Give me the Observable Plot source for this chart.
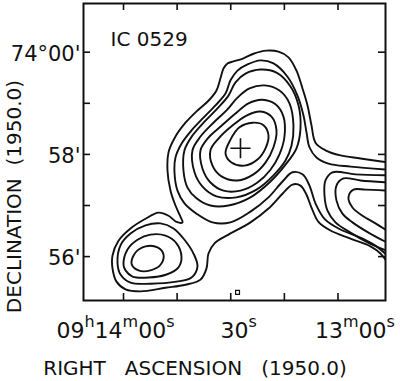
<!DOCTYPE html>
<html><head><meta charset="utf-8">
<script src="https://cdn.jsdelivr.net/npm/d3@7"></script>
<script src="https://cdn.jsdelivr.net/npm/@observablehq/plot@0.6"></script>
<style>
html,body{margin:0;padding:0;background:#fff;}
svg{display:block;}
svg text{white-space:pre;}
</style>
</head><body><div id="chart"></div>
<script>
// RA in seconds of time after 09h13m00s ; Dec in arcmin after 73°00'
const xTicks = [60, 45, 30, 15, 0];
const yTicks = [60, 59, 58, 57, 56];
const xLabelVals = [60, 30, 0];
const xLabels = ["09h14m00s", "30s", "13m00s"];
const yLabelVals = [60, 58, 56];
const yLabels = ["74°00'", "58'", "56'"];
const peak = [[27.28, 58.12]];
const beam = [[28.1, 55.30]];

// contour level 1 (open, leaves the map at the east edge)
const level1 = [[-14.12,57.84],[-6.29,57.92],[-0.69,57.98],[3.50,58.08],[6.30,58.23],[7.42,58.57],[8.54,58.96],[9.93,59.29],[11.61,59.64],[13.85,59.90],[16.65,60.01],[20.00,60.03],[23.64,59.97],[26.44,59.88],[29.23,59.82],[30.91,59.78],[32.03,59.68],[32.87,59.49],[33.99,59.25],[36.23,59.05],[39.30,58.86],[42.66,58.62],[45.46,58.35],[47.41,58.04],[47.69,57.68],[46.85,57.29],[45.46,57.00],[44.06,56.78],[43.50,56.67],[45.18,56.68],[47.41,56.80],[50.21,56.86],[53.85,56.74],[58.04,56.55],[61.40,56.31],[63.08,56.02],[63.08,55.77],[61.96,55.51],[59.44,55.36],[55.24,55.32],[48.25,55.39],[42.66,55.45],[38.46,55.55],[36.78,55.77],[36.23,56.06],[34.55,56.26],[30.63,56.43],[24.48,56.67],[19.44,56.94],[15.53,57.23],[12.73,57.41],[10.49,57.39],[8.81,57.21],[7.42,56.96],[5.46,56.68],[2.10,56.51],[-3.49,56.35],[-9.08,56.20],[-11.88,56.06],[-14.12,55.86]];
// contour level 2 (open)
const level2 = [[-14.12,57.70],[-3.49,57.76],[2.66,57.82],[6.02,57.94],[7.98,58.14],[8.81,58.43],[9.65,58.76],[11.33,59.15],[14.13,59.52],[18.04,59.78],[21.68,59.84],[25.32,59.76],[28.11,59.64],[30.07,59.45],[31.47,59.19],[34.27,58.96],[37.62,58.72],[40.98,58.47],[43.78,58.21],[45.46,57.94],[45.74,57.65],[44.90,57.29],[42.94,57.04],[39.58,56.84],[35.11,56.67],[30.07,56.67],[24.48,56.88],[19.44,57.16],[15.53,57.47],[12.73,57.65],[9.93,57.61],[7.98,57.39],[6.30,57.04],[3.78,56.74],[-0.69,56.53],[-6.29,56.37],[-10.76,56.20],[-14.12,56.00]];
// main source, closed contours
const main3 = [[42.94,58.08],[43.22,57.68],[42.10,57.35],[39.58,57.14],[35.67,57.00],[30.63,57.00],[24.48,57.16],[18.88,57.47],[14.69,57.80],[11.61,58.12],[10.49,58.51],[11.05,58.96],[13.29,59.33],[17.20,59.60],[21.68,59.66],[25.88,59.58],[28.67,59.41],[30.63,59.15],[33.71,58.90],[37.34,58.64],[40.70,58.37]];
const main4 = [[40.70,58.08],[40.14,57.65],[37.90,57.37],[33.99,57.18],[28.39,57.16],[22.80,57.31],[18.04,57.59],[14.69,57.88],[13.01,58.17],[12.45,58.56],[13.57,59.00],[16.37,59.25],[20.56,59.35],[24.76,59.29],[28.11,59.11],[31.19,58.86],[34.83,58.62],[38.46,58.35]];
const main5 = [[38.46,58.08],[37.90,57.72],[35.67,57.45],[32.03,57.29],[27.28,57.29],[22.52,57.45],[18.88,57.70],[16.37,58.00],[14.97,58.35],[15.25,58.74],[17.48,58.98],[21.12,59.07],[25.04,59.00],[28.67,58.80],[32.59,58.56],[36.23,58.33]];
const main6 = [[35.67,58.08],[35.11,57.78],[32.59,57.57],[28.11,57.49],[23.64,57.61],[20.28,57.84],[18.04,58.14],[17.20,58.47],[18.60,58.74],[21.68,58.84],[25.60,58.76],[29.79,58.55],[33.43,58.31]];
const main7 = [[31.47,58.02],[29.79,57.84],[26.16,57.78],[22.52,57.90],[20.28,58.12],[19.44,58.37],[20.84,58.57],[23.92,58.62],[27.56,58.53],[30.07,58.29]];
// south-west source, closed contours
const sw2 = [[61.68,55.88],[60.84,56.22],[58.04,56.45],[53.85,56.61],[49.65,56.65],[46.01,56.55],[42.94,56.33],[40.42,56.06],[39.30,55.81],[40.98,55.59],[45.18,55.51],[52.45,55.47],[58.04,55.49],[60.84,55.65]];
const sw3 = [[60.00,55.84],[58.88,56.14],[56.08,56.33],[52.45,56.43],[48.25,56.41],[45.18,56.26],[43.78,56.00],[44.62,55.79],[47.97,55.65],[53.01,55.59],[57.48,55.61],[59.44,55.73]];
const sw4 = [[57.76,55.86],[56.64,56.08],[53.85,56.20],[50.49,56.18],[48.81,56.04],[49.65,55.84],[52.45,55.73],[55.80,55.73]];
// eastern source, open at the map edge
const east3 = [[-14.12,57.59],[-4.89,57.61],[1.54,57.65],[3.50,57.49],[3.78,57.20],[2.94,56.90],[0.71,56.67],[-3.49,56.47],[-8.52,56.27],[-14.12,56.10]];
const east4 = [[-14.12,57.45],[-6.29,57.49],[-1.53,57.53],[0.43,57.39],[0.43,57.10],[-1.25,56.84],[-4.05,56.67],[-8.52,56.47],[-14.12,56.26]];
const east5 = [[-14.12,57.29],[-7.68,57.31],[-4.33,57.31],[-2.93,57.16],[-4.05,56.96],[-6.85,56.80],[-10.48,56.65],[-14.12,56.49]];

const openLines = [level1, level2, east3, east4, east5];
const closedLines = [main3, main4, main5, main6, main7, sw2, sw3, sw4];
const lineStyle = {x: d => d[0], y: d => d[1], stroke: "#111", strokeWidth: 1.9, clip: true};

const xLabelNudge = [-8, 8, 17];

const chart = Plot.plot({
  width: 400,
  height: 381,
  marginLeft: 83,
  marginRight: 15,
  marginTop: 3,
  marginBottom: 81,
  style: {fontFamily: "'DejaVu Sans', sans-serif", background: "white", color: "black"},
  x: {domain: [71.19, -13.29], axis: null},
  y: {domain: [55.141, 60.953], axis: null},
  marks: [
    ...openLines.map(c => Plot.line(c, {...lineStyle, curve: "catmull-rom"})),
    ...closedLines.map(c => Plot.line(c, {...lineStyle, curve: "catmull-rom-closed"})),
    Plot.dot(peak, {x: d => d[0], y: d => d[1], symbol: "plus", r: 6.5, stroke: "#111", strokeWidth: 1.6}),
    Plot.dot(beam, {x: d => d[0], y: d => d[1], symbol: "square", r: 2.2, stroke: "#111", strokeWidth: 1.2, fill: "white"}),
    Plot.frame({stroke: "#111", strokeWidth: 2}),
    Plot.tickX(xTicks, {x: d => d, insetTop: 290, stroke: "#111", strokeWidth: 1.6}),
    Plot.tickX(xTicks, {x: d => d, insetBottom: 290, stroke: "#111", strokeWidth: 1.6}),
    Plot.tickY(yTicks, {y: d => d, insetRight: 295, stroke: "#111", strokeWidth: 1.6}),
    Plot.tickY(yTicks, {y: d => d, insetLeft: 295, stroke: "#111", strokeWidth: 1.6}),
    Plot.text(yLabelVals, {y: d => d, text: (d, i) => yLabels[i], frameAnchor: "left", textAnchor: "end", lineAnchor: "middle", dx: -3, dy: 2, fontSize: 21, fill: "#111"}),
    ...xLabelVals.map((v, i) => Plot.text([v], {x: d => d, text: () => xLabels[i], frameAnchor: "bottom", textAnchor: "middle", lineAnchor: "middle", dy: 30, dx: xLabelNudge[i], fontSize: 22, fill: "#111"})),
    Plot.text(["IC 0529"], {text: d => d, frameAnchor: "top-left", textAnchor: "start", lineAnchor: "middle", dx: 27, dy: 36, fontSize: 20, fill: "#111"}),
    Plot.text(["RIGHT   ASCENSION   (1950.0)"], {text: d => d, frameAnchor: "bottom", textAnchor: "middle", lineAnchor: "middle", dx: -39.5, dy: 68.5, fontSize: 20, fill: "#111"}),
    Plot.text(["DECLINATION  (1950.0)"], {text: d => d, frameAnchor: "left", textAnchor: "middle", lineAnchor: "middle", rotate: -90, dx: -68.6, dy: 44.5, fontSize: 20, fill: "#111"})
  ]
});

// RA labels: hours/minutes/seconds letters as superscripts
d3.select(chart).selectAll("text").filter(function () {
  return xLabels.includes(this.textContent);
}).each(function () {
  const t = d3.select(this);
  const runs = t.text().match(/\d+|[a-z]+/g);
  t.text(null);
  let up = false;
  for (const r of runs) {
    const sup = /[a-z]/.test(r);
    const ts = t.append("tspan").text(r);
    if (sup) { ts.attr("font-size", 16); if (!up) { ts.attr("dy", -11); up = true; } }
    else if (up) { ts.attr("dy", 11); up = false; }
  }
});

document.getElementById("chart").append(chart);
</script></body></html>
